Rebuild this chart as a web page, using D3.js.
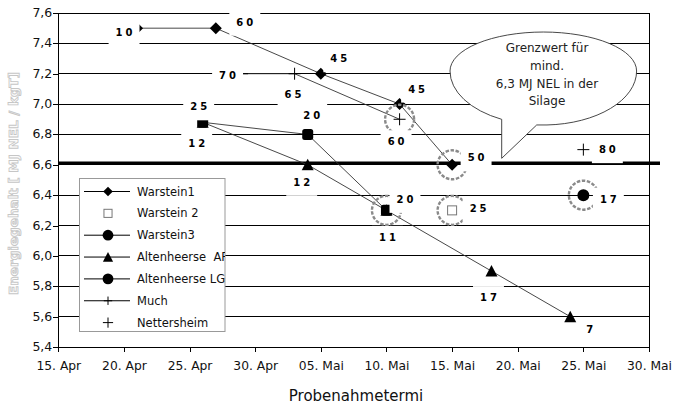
<!DOCTYPE html>
<html><head><meta charset="utf-8">
<script src="https://cdn.jsdelivr.net/npm/d3@7"></script>
<style>body{margin:0;background:#fff} svg{display:block} text{white-space:pre}</style>
</head><body>
<svg id="chart" width="677" height="404"></svg>
<script>
// ---------------- DATA ----------------
const xTickDates  = ["2001-04-15","2001-04-20","2001-04-25","2001-04-30","2001-05-05","2001-05-10","2001-05-15","2001-05-20","2001-05-25","2001-05-30"];
const xTickLabels = ["15. Apr","20. Apr","25. Apr","30. Apr","05. Mai","10. Mai","15. Mai","20. Mai","25. Mai","30. Mai"];
const yTickValues = [5.4,5.6,5.8,6.0,6.2,6.4,6.6,6.8,7.0,7.2,7.4,7.6];
const yTickLabels = ["5,4","5,6","5,8","6,0","6,2","6,4","6,6","6,8","7,0","7,2","7,4","7,6"];

const seriesNames = ["Warstein1","Warstein 2","Warstein3","Altenheerse  AF","Altenheerse LG","Much","Nettersheim"];

const warstein1Dates  = ["2001-04-21","2001-04-27","2001-05-05","2001-05-11","2001-05-15"];
const warstein1Values = [7.5,7.5,7.2,7.0,6.6];
const warstein1Labels = ["10","60","45","45","50"];

const warstein2Dates  = ["2001-05-15"];
const warstein2Values = [6.3];
const warstein2Labels = ["25"];

const warstein3Dates  = ["2001-04-26","2001-05-04","2001-05-10"];
const warstein3Values = [6.88,6.8,6.3];
const warstein3Labels = ["25","20","20"];

const altenheerseAFDates  = ["2001-04-26","2001-05-04","2001-05-10","2001-05-18","2001-05-24"];
const altenheerseAFValues = [6.88,6.6,6.3,5.9,5.6];
const altenheerseAFLabels = ["12","12","11","17","7"];

const altenheerseLGDates  = ["2001-05-25"];
const altenheerseLGValues = [6.4];
const altenheerseLGLabels = ["17"];

const muchDates  = ["2001-04-29","2001-05-03","2001-05-11"];
const muchValues = [7.2,7.2,6.9];
const muchLabels = ["70","65","60"];

const nettersheimDates  = ["2001-05-25"];
const nettersheimValues = [6.7];
const nettersheimLabels = ["80"];

const thresholdValue = 6.61;
const highlightDates  = ["2001-05-11","2001-05-15","2001-05-10","2001-05-15","2001-05-25"];
const highlightValues = [6.9,6.6,6.3,6.3,6.4];

const calloutLines = ["Grenzwert für","mind.","6,3 MJ NEL in der","Silage"];
const yAxisTitle = "Energiegehalt [ MJ NEL / kgT]";
const xAxisTitle = "Probenahmetermi";

// ---------------- SETUP ----------------
const parse = d3.utcParse("%Y-%m-%d");
const svg = d3.select("#chart");
const FONT = "'DejaVu Sans', Verdana, sans-serif";

const L = 58.3, R = 649, T = 13, B = 347;
const x = d3.scaleUtc().domain([parse(xTickDates[0]), parse(xTickDates[xTickDates.length-1])]).range([L, R]);
const y = d3.scaleLinear().domain([5.4, 7.6]).range([B, T]);

const series = [
  {name: seriesNames[0], dates: warstein1Dates, values: warstein1Values, labels: warstein1Labels},
  {name: seriesNames[1], dates: warstein2Dates, values: warstein2Values, labels: warstein2Labels},
  {name: seriesNames[2], dates: warstein3Dates, values: warstein3Values, labels: warstein3Labels},
  {name: seriesNames[3], dates: altenheerseAFDates, values: altenheerseAFValues, labels: altenheerseAFLabels},
  {name: seriesNames[4], dates: altenheerseLGDates, values: altenheerseLGValues, labels: altenheerseLGLabels},
  {name: seriesNames[5], dates: muchDates, values: muchValues, labels: muchLabels},
  {name: seriesNames[6], dates: nettersheimDates, values: nettersheimValues, labels: nettersheimLabels}
];
// styling / label layout (pixel offsets of data labels relative to their point)
const seriesStyle = [
  {marker:"diamond",    legendMarker:"diamond",    line:true,  offsets:[[-13,4],[29,-6],[18,-15],[17,-15],[24,-7]]},
  {marker:"openSquare", legendMarker:"openSquare", line:false, offsets:[[26,-2]]},
  {marker:"roundSquare",legendMarker:"circle",     line:true,  offsets:[[-4,-15.5],[4,-19],[18.5,-11]]},
  {marker:"triangle",   legendMarker:"triangle",   line:true,  offsets:[[-6,21.5],[-6,17.5],[1,27],[-3,26.5],[19.5,13]]},
  {marker:"circle",     legendMarker:"circle",     line:true,  offsets:[[25,4]]},
  {marker:"plus",       legendMarker:"plus",       line:true,  offsets:[[-14.5,2],[-1.5,21],[-3.5,22.5]]},
  {marker:"plus",       legendMarker:"plus",       line:false, offsets:[[24,0]]}
];

function drawMarker(g, type, s) {
  s = s || 1;
  if (type === "diamond") {
    g.append("path").attr("d", `M0,${-6*s}L${6*s},0L0,${6*s}L${-6*s},0Z`).attr("fill","#000");
  } else if (type === "openSquare") {
    g.append("rect").attr("x",-4.5*s).attr("y",-4.5*s).attr("width",9*s).attr("height",9*s)
      .attr("fill","#fff").attr("stroke","#777").attr("stroke-width",1);
  } else if (type === "roundSquare") {
    g.append("rect").attr("x",-5.5*s).attr("y",-5.5*s).attr("width",11*s).attr("height",11*s)
      .attr("rx",2.5*s).attr("fill","#000");
  } else if (type === "triangle") {
    g.append("path").attr("d", `M0,${-6*s}L${6*s},${5.5*s}L${-6*s},${5.5*s}Z`).attr("fill","#000");
  } else if (type === "circle") {
    g.append("circle").attr("r",6*s).attr("fill","#000");
  } else if (type === "plus") {
    g.append("path").attr("d", `M${-6*s},0H${6*s}M0,${-6*s}V${6*s}`).attr("stroke","#000").attr("stroke-width",1);
  }
}

// ---------------- GRID & AXES ----------------
svg.append("g").selectAll("line").data(yTickValues).join("line")
  .attr("x1", L).attr("x2", R).attr("y1", d => y(d)).attr("y2", d => y(d))
  .attr("stroke", "#000").attr("stroke-width", 1).attr("shape-rendering","crispEdges");

svg.append("line").attr("x1", R).attr("x2", R).attr("y1", T).attr("y2", B)
  .attr("stroke", "#000").attr("shape-rendering","crispEdges");

const yAxis = d3.axisLeft(y).tickValues(yTickValues).tickSize(5).tickSizeOuter(0)
  .tickFormat((d,i) => yTickLabels[i]);
const gy = svg.append("g").attr("transform", `translate(${L},0)`).call(yAxis);
gy.selectAll("text").attr("font-family", FONT).attr("font-size", 12.5).attr("fill","#111").attr("dy","0.28em").attr("x",-6);
gy.selectAll("line, path").attr("stroke","#000").attr("shape-rendering","crispEdges");

const xAxis = d3.axisBottom(x).tickValues(xTickDates.map(parse)).tickSize(5).tickSizeOuter(0)
  .tickFormat((d,i) => xTickLabels[i]);
const gx = svg.append("g").attr("transform", `translate(0,${B})`).call(xAxis);
gx.selectAll("text").attr("font-family", FONT).attr("font-size", 12.3).attr("fill","#111").attr("y", 14).attr("dy","0.71em");
gx.selectAll("line, path").attr("stroke","#000").attr("shape-rendering","crispEdges");

// threshold line
svg.append("line").attr("x1", L).attr("x2", 660).attr("y1", y(thresholdValue)).attr("y2", y(thresholdValue))
  .attr("stroke", "#000").attr("stroke-width", 3.6);

// ---------------- SERIES ----------------
const lineGen = d3.line().x(d => x(d.date)).y(d => y(d.value));
series.forEach((s, si) => {
  s.points = s.dates.map((d, i) => ({date: parse(d), value: s.values[i], label: s.labels[i]}));
  if (seriesStyle[si].line && s.points.length > 1) {
    svg.append("path").datum(s.points).attr("d", lineGen)
      .attr("fill","none").attr("stroke","#333").attr("stroke-width",0.9);
  }
});
series.forEach((s, si) => {
  s.points.forEach(p => {
    const g = svg.append("g").attr("transform", `translate(${x(p.date)},${y(p.value)})`);
    drawMarker(g, seriesStyle[si].marker, 1);
  });
});

// highlight rings
svg.append("g").selectAll("circle").data(highlightDates.map((d,i) => ({date: parse(d), value: highlightValues[i]})))
  .join("circle").attr("cx", d => x(d.date)).attr("cy", d => y(d.value)).attr("r", 14.5)
  .attr("fill","none").attr("stroke","#8a8a8a").attr("stroke-width",2.4).attr("stroke-dasharray","3.5,1.6");

// data labels with white boxes
const LS = 3;
series.forEach((s, si) => {
  s.points.forEach((p, i) => {
    const off = seriesStyle[si].offsets[i];
    const cx = x(p.date) + off[0], cy = y(p.value) + off[1];
    const g = svg.append("g");
    const rect = g.append("rect").attr("fill","#fff");
    const t = g.append("text").attr("x", cx + LS/2).attr("y", cy).attr("dy","0.36em")
      .attr("text-anchor","middle").attr("font-family", FONT).attr("font-weight","bold")
      .attr("font-size", 10).attr("letter-spacing", LS).attr("fill","#000").text(p.label);
    const w = t.node().getComputedTextLength() - LS;
    rect.attr("x", cx - w/2 - 7).attr("y", cy - 11.5).attr("width", w + 14).attr("height", 25);
  });
});

// ---------------- CALLOUT ----------------
const ecx = 543.3, ecy = 71, erx = 93.3, ryTop = 39, ryBot = 54;
const by = dx => ecy + ryBot * Math.sqrt(1 - (dx/erx)*(dx/erx));
const p1x = 547, p2x = 536.7, tipX = 501.7, tipY = 158.3;
const calloutPath = `M${ecx-erx},${ecy} A${erx},${ryTop} 0 0 1 ${ecx+erx},${ecy}` +
  ` A${erx},${ryBot} 0 0 1 ${p1x},${by(p1x-ecx)}` +
  ` L${p2x},${by(p1x-ecx)} L${tipX},${tipY} L${tipX},${by(tipX-ecx)}` +
  ` A${erx},${ryBot} 0 0 1 ${ecx-erx},${ecy} Z`;
svg.append("path").attr("d", calloutPath).attr("fill","#fff").attr("stroke","#333").attr("stroke-width",0.9);
const calloutBase = [52, 70, 87.5, 105];
svg.append("g").selectAll("text").data(calloutLines).join("text")
  .attr("x", 547).attr("y", (d,i) => calloutBase[i]).attr("text-anchor","middle")
  .attr("font-family", FONT).attr("font-size", 12).attr("fill","#222").text(d => d);

// ---------------- LEGEND ----------------
const defs = svg.append("defs");
defs.append("clipPath").attr("id","legclip").append("rect").attr("x",79).attr("y",178).attr("width",146).attr("height",154);
svg.append("rect").attr("x",79.5).attr("y",178.5).attr("width",145.5).attr("height",153)
  .attr("fill","#fff").attr("stroke","#999").attr("stroke-width",1);
const leg = svg.append("g").attr("clip-path","url(#legclip)");
const legendMarkerScale = [0.8, 0.9, 0.9, 0.85, 0.9, 0.7, 0.85];
series.forEach((s, si) => {
  const ly = 191.5 + si * 21.85;
  const g = leg.append("g");
  if (seriesStyle[si].line) {
    g.append("line").attr("x1",84).attr("x2",130).attr("y1",ly).attr("y2",ly).attr("stroke","#000").attr("stroke-width",1);
  }
  const mg = g.append("g").attr("transform", `translate(108,${ly})`);
  drawMarker(mg, seriesStyle[si].legendMarker, legendMarkerScale[si]);
  g.append("text").attr("x",137).attr("y",ly).attr("dy","0.36em")
    .attr("font-family", FONT).attr("font-size", 11.5).attr("fill","#111").text(s.name);
});

// ---------------- TITLES ----------------
svg.append("text").attr("x", 356).attr("y", 401).attr("text-anchor","middle")
  .attr("font-family", FONT).attr("font-size", 15).attr("fill","#111").text(xAxisTitle);
svg.append("text").attr("transform","translate(14,183.5) rotate(-90)")
  .attr("text-anchor","middle").attr("dy","0.35em")
  .attr("font-family", FONT).attr("font-weight","bold").attr("font-size", 11.5)
  .attr("textLength", 223).attr("lengthAdjust","spacingAndGlyphs")
  .attr("fill","#fbfbfb").attr("stroke","#c6c6c6").attr("stroke-width",0.8).text(yAxisTitle);
</script>
</body></html>
